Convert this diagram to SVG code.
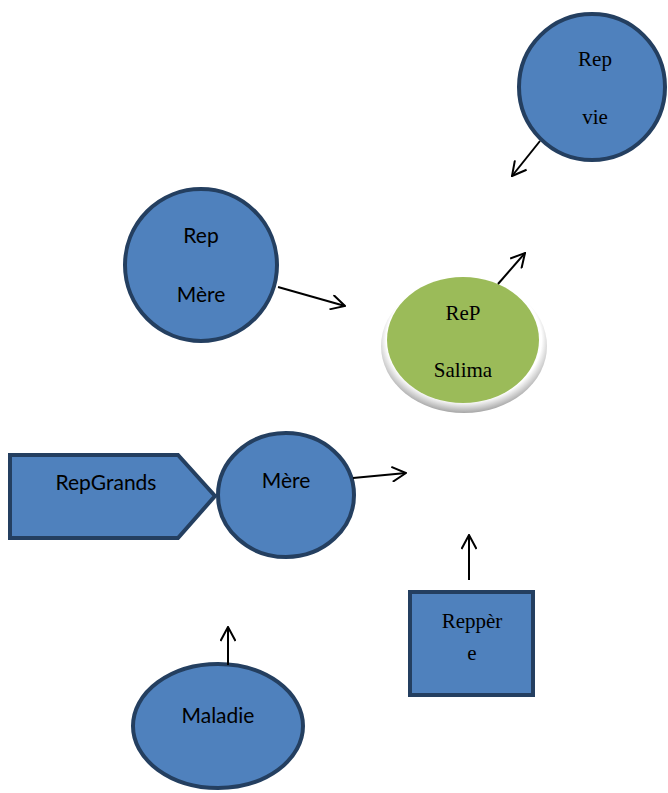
<svg xmlns="http://www.w3.org/2000/svg" width="668" height="793" viewBox="0 0 668 793">
<style>
.n{fill:#4F81BD;stroke:#243F60;stroke-width:4}
.c{font-family:Lato,"Liberation Sans",sans-serif;font-size:21px;fill:#000;text-anchor:middle}
.t{font-family:"Liberation Serif",serif;font-size:21px;fill:#000;text-anchor:middle}
.a{stroke:#000;stroke-width:2;fill:none}
</style>
<defs>
<marker id="ah" viewBox="0 0 16 16" refX="15" refY="8" markerWidth="16" markerHeight="16" markerUnits="userSpaceOnUse" orient="auto">
<path d="M1,0.5 L15,8 L1,15.5" fill="none" stroke="#000" stroke-width="2"/>
</marker>
<radialGradient id="sh" cx="0.5" cy="0.45" r="0.55">
<stop offset="0.85" stop-color="#fff"/>
<stop offset="1" stop-color="#a6a6a6"/>
</radialGradient>
</defs>
<g id="repvie"><circle class="n" cx="592" cy="87" r="73"/><text class="t" x="595" y="66">Rep</text><text class="t" x="595" y="124">vie</text></g>
<g id="repmere"><circle class="n" cx="201" cy="265" r="76"/><text class="c" x="201" y="243">Rep</text><text class="c" x="201" y="302">Mère</text></g>
<g id="salima"><ellipse cx="464" cy="346" rx="83" ry="67" fill="url(#sh)"/><ellipse cx="463" cy="340" rx="76" ry="63" fill="#9BBB59"/><text class="t" x="463" y="320">ReP</text><text class="t" x="463" y="377">Salima</text></g>
<g id="repgrands"><polygon class="n" points="10,455 178,455 215,496 178,538 10,538"/><text class="c" x="106" y="490">RepGrands</text></g>
<g id="mere"><ellipse class="n" cx="286" cy="495" rx="68" ry="62"/><text class="c" x="286" y="488">Mère</text></g>
<g id="reppere"><rect class="n" x="410" y="592" width="123" height="103"/><text class="t" x="472" y="628">Reppèr</text><text class="t" x="472" y="660">e</text></g>
<g id="maladie"><ellipse class="n" cx="218" cy="726" rx="85" ry="62"/><text class="c" x="218" y="723">Maladie</text></g>
<g id="connectors">
<line class="a" x1="540" y1="141" x2="512" y2="176" marker-end="url(#ah)"/>
<line class="a" x1="278" y1="287" x2="345" y2="306" marker-end="url(#ah)"/>
<line class="a" x1="498" y1="284" x2="525" y2="253" marker-end="url(#ah)"/>
<line class="a" x1="353" y1="478" x2="406" y2="473" marker-end="url(#ah)"/>
<line class="a" x1="469" y1="580" x2="469" y2="535" marker-end="url(#ah)"/>
<line class="a" x1="228" y1="665" x2="228" y2="627" marker-end="url(#ah)"/>
</g>
</svg>
